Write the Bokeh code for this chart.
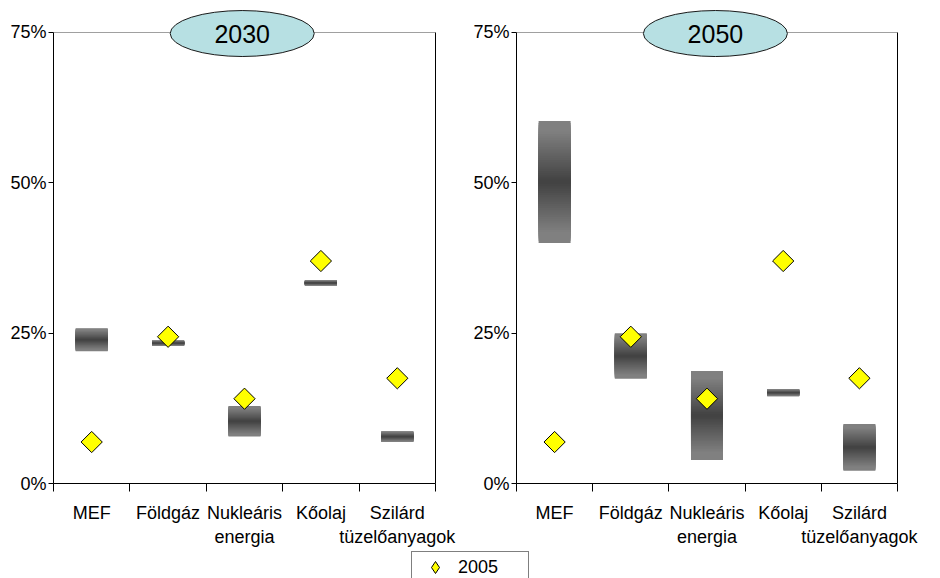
from math import pi

from bokeh.plotting import figure
from bokeh.layouts import column, row
from bokeh.models import (FixedTicker, LinearAxis, Range1d, Legend, LegendItem,
                          PrintfTickFormatter)
from bokeh.core.properties import value
from bokeh.embed import file_html
from bokeh.resources import INLINE

# ---- data (shares of primary energy supply, %) ----
categories = ["MEF", "Földgáz", "Nukleáris\nenergia", "Kőolaj", "Szilárd\ntüzelőanyagok"]
share_2005 = [6.9, 24.4, 14.1, 37.0, 17.5]
low_2030 = [22.0, 22.9, 7.8, 32.9, 6.9]
high_2030 = [25.8, 23.8, 12.9, 33.8, 8.7]
low_2050 = [40.0, 17.4, 3.9, 14.5, 2.1]
high_2050 = [60.3, 25.0, 18.7, 15.7, 9.9]
y_ticks = [0, 25, 50, 75]

FONT = "Liberation Sans"
Y_MAX = 75
Y_TOP = 79.49          # headroom above 75% for the year badge
BAR_HALF = 0.21
STEPS = 28


def gradient_layers(lows, highs):
    """Nested rectangles, light at the edges and dark in the middle."""
    left, right, bottom, top, color = [], [], [], [], []
    for k in range(STEPS):
        frac = 1 - k / STEPS
        shade = int(round(64 + 64 * min(1.0, frac / 0.85)))
        for i, (lo, hi) in enumerate(zip(lows, highs)):
            mid = (lo + hi) / 2
            half = (hi - lo) / 2 * frac
            left.append(i + 0.5 - BAR_HALF)
            right.append(i + 0.5 + BAR_HALF)
            bottom.append(mid - half)
            top.append(mid + half)
            color.append("#%02x%02x%02x" % (shade, shade, shade))
    return dict(left=left, right=right, bottom=bottom, top=top, color=color)


def panel(year, lows, highs, badge_x, border_left, border_right):
    p = figure(width=470, height=549, x_range=Range1d(0, len(categories)),
               y_range=Range1d(0, Y_TOP), toolbar_location=None,
               output_backend="svg", min_border_left=border_left,
               min_border_right=border_right, min_border_top=5,
               min_border_bottom=66)
    p.outline_line_color = None
    p.background_fill_color = "white"
    p.border_fill_color = "white"

    # grid: only the 75% line, in grey
    p.xgrid.visible = False
    p.ygrid.ticker = FixedTicker(ticks=[Y_MAX])
    p.ygrid.grid_line_color = "#A0A0A0"
    p.ygrid.grid_line_width = 1

    # y axis
    ya = p.yaxis[0]
    ya.bounds = (0, Y_MAX)
    ya.ticker = FixedTicker(ticks=y_ticks, minor_ticks=[])
    ya.formatter = PrintfTickFormatter(format="%d%%")
    ya.major_tick_out = 5
    ya.major_tick_in = 0
    ya.minor_tick_line_color = None
    ya.major_label_standoff = 2
    ya.major_label_text_font = FONT
    ya.major_label_text_font_size = "18px"
    ya.major_label_text_color = "black"
    ya.axis_line_color = "black"
    ya.major_tick_line_color = "black"

    # x axis: labels in the middle of each category, ticks on the boundaries
    xa = p.xaxis[0]
    centers = [i + 0.5 for i in range(len(categories))]
    xa.ticker = FixedTicker(ticks=centers,
                            minor_ticks=list(range(len(categories) + 1)))
    xa.major_label_overrides = {c: lab for c, lab in zip(centers, categories)}
    xa.major_tick_out = 0
    xa.major_tick_in = 0
    xa.major_tick_line_color = None
    xa.minor_tick_out = 8
    xa.minor_tick_in = 0
    xa.minor_tick_line_color = "black"
    xa.axis_line_color = "black"
    xa.major_label_standoff = 11
    xa.major_label_text_font = FONT
    xa.major_label_text_font_size = "18px"
    xa.major_label_text_color = "black"

    # right-hand border of the plot area
    ra = LinearAxis(bounds=(0, Y_MAX), ticker=FixedTicker(ticks=[], minor_ticks=[]),
                    major_tick_out=0, major_tick_in=0, minor_tick_out=0,
                    minor_tick_in=0, axis_line_color="black",
                    major_label_text_font_size="0px")
    p.add_layout(ra, "right")

    # projected ranges
    p.quad(source=gradient_layers(lows, highs), left="left", right="right",
           bottom="bottom", top="top", fill_color="color", line_color=None)

    # 2005 values
    p.scatter(x=centers, y=share_2005, marker="square", angle=pi / 4, size=15,
              fill_color="#FFFF00", line_color="black", line_width=1)

    # year badge
    p.ellipse(x=[badge_x], y=[74.83], width=144, height=46,
              width_units="screen", height_units="screen",
              fill_color="#B7E0E3", line_color="#1A1A1A", line_width=1)
    p.text(x=[badge_x], y=[74.83], text=[year], text_font=value(FONT),
           text_font_size="25px", text_align="center", text_baseline="middle",
           text_color="black")
    return p


p1 = panel("2030", low_2030, high_2030, 2.47, 53, 35)
p2 = panel("2050", low_2050, high_2050, 2.61, 44, 43)

# legend strip beneath both panels (its box runs off the bottom edge)
p3 = figure(width=940, height=29, x_range=Range1d(0, 1), y_range=Range1d(-2, -1),
            toolbar_location=None, output_backend="svg", x_axis_type=None,
            y_axis_type=None, min_border=0)
p3.outline_line_color = None
p3.xgrid.visible = False
p3.ygrid.visible = False
r2005 = p3.scatter(x=[i + 0.5 for i in range(len(categories))], y=share_2005,
                   marker="diamond", fill_color="#FFFF00", line_color="black")
legend = Legend(items=[LegendItem(label="2005", renderers=[r2005])],
                location=(411, -5), orientation="vertical", margin=0, padding=0,
                spacing=0, glyph_width=46, glyph_height=30, label_standoff=0,
                label_width=70, label_height=30, label_text_font=FONT,
                label_text_font_size="18px", label_text_color="black",
                border_line_color="black", border_line_width=1,
                background_fill_color="white", background_fill_alpha=1)
p3.add_layout(legend)

layout = column(row(p1, p2), p3)

with open("out.html", "w") as f:
    f.write(file_html(layout, INLINE))
